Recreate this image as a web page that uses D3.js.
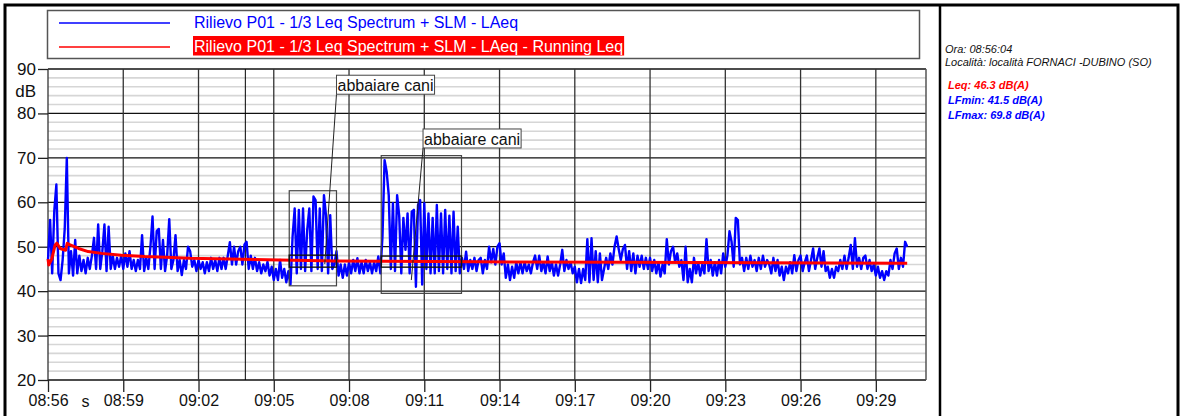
<!DOCTYPE html>
<html>
<head>
<meta charset="utf-8">
<script src="https://cdn.jsdelivr.net/npm/d3@7"></script>
<style>
  body { margin: 0; background: #fff; }
  svg { display: block; font-family: "Liberation Sans", Arial, sans-serif; }
</style>
</head>
<body>
<svg id="chart" width="1183" height="416"></svg>
<script>
// measurement window
const startTime = "08:56:04";
const endTime = "09:31:04";
const stepSec = 5;

// LAeq, one value every 5 s (one row = one minute)
const laeq = [
  47, 56, 44, 58, 64, 44, 42.5, 47, 54, 70, 44, 49,
  43.5, 51.5, 44, 48, 44.5, 47, 44, 47.5, 45, 48, 52, 45,
  55, 45, 49, 55, 44.5, 54.5, 45, 48, 45, 47.5, 45.5, 48,
  45, 48.5, 45.5, 49, 45, 47, 44.5, 47, 45, 52.6, 44.5, 47.5,
  45, 50, 56.8, 45, 53.5, 54, 45, 51.5, 44.5, 48, 56.2, 45,
  47, 52.6, 44.5, 47, 43.6, 47, 45, 50, 49, 45.5, 47, 44.5,
  47, 45, 46.5, 44, 46.5, 44.5, 47.5, 45, 47, 44.5, 47.5, 45,
  47.5, 45, 48, 51, 46, 50, 46, 49, 50, 46, 50.5, 51.1,
  45, 48, 45, 47.5, 44.5, 46.5, 44, 46, 44.5, 46.6, 43.5, 45.5,
  42.5, 45, 42.5, 47, 43, 45, 42, 44.5, 41.5, 52.3, 58.6, 44,
  58.3, 45, 58.6, 44.5, 53.8, 58.6, 44.5, 61.3, 60.5, 45, 58.6, 44.5,
  61.6, 57, 44, 57.1, 45, 46, 49, 43.5, 46, 43, 46, 43.5,
  46.5, 44, 47, 44.5, 47.4, 44, 46.5, 44, 47, 44.5, 46.5, 44,
  46.5, 44.5, 47.8, 44, 52.3, 69.5, 66.9, 61.6, 45, 59.8, 44.5, 61.6,
  57, 44, 56.5, 49.3, 57.5, 44, 57.9, 58.3, 41, 59.4, 60.5, 41.5,
  59.8, 45, 57.5, 44, 56.5, 44, 59.4, 44.5, 57.5, 44, 58.3, 45,
  57, 44, 57.9, 44.5, 54.5, 44, 47.5, 45, 48.9, 44.5, 47, 45,
  47.5, 44.5, 47, 47.5, 44, 47, 45, 50, 46.5, 49.5, 46, 50,
  50.8, 46, 48.5, 43, 46, 42.5, 45.5, 43, 46.5, 44, 46.5, 44,
  46.5, 44.5, 46, 44, 46.5, 48, 45, 48, 44.5, 46.5, 44, 47.8,
  44.5, 46.5, 43.5, 46, 43.5, 46, 49.3, 44.5, 47, 45, 46.5, 44,
  45.5, 42, 45, 41.8, 45, 42.5, 51.7, 42, 51.9, 42.5, 49, 42,
  48.5, 42.5, 45, 47.5, 45, 48.5, 46, 50, 52.3, 49.5, 47, 49.5,
  50.4, 45, 49, 44.5, 48.5, 44, 48, 45.5, 48, 45, 47.5, 45,
  47.5, 44.5, 47, 44, 46.5, 43.3, 46, 44, 51.7, 46, 49, 50,
  46.5, 48.5, 45.5, 47, 42.5, 50, 42, 45, 42, 47.5, 44, 46.5,
  43.5, 46, 44, 51.7, 44.5, 47, 43.5, 46.5, 43.5, 47, 44, 48.5,
  45.5, 48, 53.5, 51.1, 45.5, 56.5, 56, 46, 47.5, 44.5, 47.5, 45,
  48, 45.5, 47, 44.5, 47.5, 45, 48, 45.5, 47, 46, 44, 47.5,
  44.5, 47, 43.5, 45.5, 42.5, 45.5, 44, 46.5, 44, 48.1, 44.5, 47,
  48, 44.5, 46.5, 48, 44.5, 47, 49.6, 45, 47.5, 49.6, 45.5, 49,
  44.5, 45.5, 43, 45, 43, 45.5, 44.5, 47, 45, 48, 45, 47.5,
  50.4, 45, 51.9, 45.5, 47.5, 45, 47.5, 48, 45, 47, 44.5, 46,
  43.5, 45.5, 43, 44.5, 42.5, 44.5, 43.5, 47, 45, 48.5, 49.6, 45,
  47.5, 45.5, 51.1, 50
];

// running Leq, read at seconds from start
const runSec = [0, 2, 9, 17, 21, 29, 42, 46, 53, 73, 96, 128, 176, 232, 296, 340, 555, 686, 1030, 1380, 2055];
const runLeq = [47.2, 45.9, 47.2, 50.4, 50.8, 49.6, 49.2, 50.8, 50.4, 49.6, 48.9, 48.5, 48.1, 47.8, 47.6, 47.4, 47.0, 46.8, 46.6, 46.5, 46.3];

const yTicks = [20, 30, 40, 50, 60, 70, 80, 90];
const markerTime = "09:03:56";

const dogEvents = [
  {label: "abbaiare cani", from: "09:05:41", to: "09:07:34", top: 62.6, bottom: 41.2, leqTop: 48.1, leqBottom: 45.4,
   labelAt: "09:07:34", labelDb: 88.6, pointAt: "09:07:06", pointDb: 46.1},
  {label: "abbaiare cani", from: "09:09:21", to: "09:12:33", top: 70.5, bottom: 39.5, leqTop: 47.9, leqBottom: 45.4,
   labelAt: "09:11:01", labelDb: 76.5, pointAt: "09:10:33", pointDb: 42.5}
];

const legendLabels = ["Rilievo P01 - 1/3 Leq Spectrum + SLM - LAeq", "Rilievo P01 - 1/3 Leq Spectrum + SLM - LAeq - Running Leq"];
const infoLines = ["Ora: 08:56:04", "Località: località FORNACI -DUBINO (SO)"];
const statNames = ["Leq", "LFmin", "LFmax"];
const statValues = [46.3, 41.5, 69.8];

const parse = d3.timeParse("%H:%M:%S");
const t0 = parse(startTime);
const plot = {left: 48, right: 926, top: 69, bottom: 380};

const x = d3.scaleTime([t0, parse(endTime)], [plot.left, plot.right]);
const y = d3.scaleLinear([20, 90], [plot.bottom, plot.top]);
const xTicks = d3.range(0, 12).map(k => d3.timeMinute.offset(t0, 3 * k));

const svg = d3.select("#chart");

// outer frame
svg.append("path")
    .attr("d", "M5,416V5H1178V416")
    .attr("fill", "none").attr("stroke", "#000").attr("stroke-width", 3);
svg.append("line")
    .attr("x1", 940).attr("x2", 940).attr("y1", 5).attr("y2", 416)
    .attr("stroke", "#000").attr("stroke-width", 2.5);

// legend
const legend = svg.append("g");
legend.append("rect")
    .attr("x", 47.5).attr("y", 10.5).attr("width", 872).attr("height", 48)
    .attr("fill", "none").attr("stroke", "#555").attr("stroke-width", 1.5);
legend.selectAll("line")
  .data(legendLabels)
  .join("line")
    .attr("x1", 59).attr("x2", 170)
    .attr("y1", (d, i) => 23 + i * 24).attr("y2", (d, i) => 23 + i * 24)
    .attr("stroke", (d, i) => i ? "#ff0000" : "#0000ff")
    .attr("stroke-width", 1.5);
const redText = legend.append("text")
    .attr("x", 194).attr("y", 51.5)
    .attr("font-size", 16).attr("fill", "#fff")
    .text(legendLabels[1]);
const rb = redText.node().getBBox();
legend.insert("rect", "text")
    .attr("x", 193).attr("y", 36).attr("width", rb.width + 2).attr("height", 19.5)
    .attr("fill", "#ff0000");
legend.append("text")
    .attr("x", 194).attr("y", 27.5)
    .attr("font-size", 16).attr("fill", "#0000ff")
    .text(legendLabels[0]);

// minor grid
svg.append("g")
  .selectAll("line")
  .data(d3.range(22, 90, 2).filter(v => v % 10 !== 0))
  .join("line")
    .attr("x1", plot.left).attr("x2", plot.right)
    .attr("y1", d => y(d)).attr("y2", d => y(d))
    .attr("stroke", "#d6d6d6").attr("stroke-width", 1.6);

// major horizontal grid
svg.append("g")
  .selectAll("line")
  .data(yTicks)
  .join("line")
    .attr("x1", plot.left).attr("x2", plot.right)
    .attr("y1", d => y(d)).attr("y2", d => y(d))
    .attr("stroke", "#111").attr("stroke-width", 1.3);

// vertical grid
svg.append("g")
  .selectAll("line")
  .data(xTicks)
  .join("line")
    .attr("x1", d => x(d)).attr("x2", d => x(d))
    .attr("y1", plot.top).attr("y2", plot.bottom)
    .attr("stroke", "#333").attr("stroke-width", 1.3);
svg.append("line")
    .attr("x1", plot.right).attr("x2", plot.right)
    .attr("y1", plot.top).attr("y2", plot.bottom)
    .attr("stroke", "#555").attr("stroke-width", 1.5);
svg.append("line")
    .attr("x1", x(parse(markerTime))).attr("x2", x(parse(markerTime)))
    .attr("y1", plot.top).attr("y2", plot.bottom)
    .attr("stroke", "#000").attr("stroke-width", 1);

// axes
const yAxis = svg.append("g")
    .attr("transform", `translate(${plot.left},0)`)
    .call(d3.axisLeft(y).tickValues(yTicks).tickSize(10).tickPadding(2))
    .call(g => g.select(".domain").remove());
yAxis.selectAll(".tick line").attr("stroke", "#222").attr("stroke-width", 1.3);
yAxis.selectAll(".tick text").attr("font-size", 17).attr("fill", "#111")
    .attr("font-family", "Liberation Sans, Arial, sans-serif");
yAxis.append("text")
    .attr("x", -12).attr("y", y(85)).attr("dy", "0.32em")
    .attr("text-anchor", "end").attr("font-size", 17).attr("fill", "#111")
    .text("dB");

const xAxis = svg.append("g")
    .attr("transform", `translate(0,${plot.bottom})`)
    .call(d3.axisBottom(x).tickValues(xTicks).tickSize(12).tickPadding(3).tickFormat(d3.timeFormat("%H:%M")))
    .call(g => g.select(".domain").remove());
xAxis.selectAll(".tick line").attr("stroke", "#222").attr("stroke-width", 1.3);
xAxis.selectAll(".tick text").attr("font-size", 16).attr("fill", "#111")
    .attr("font-family", "Liberation Sans, Arial, sans-serif");
xAxis.append("text")
    .attr("x", 85.5).attr("y", 27).attr("text-anchor", "middle")
    .attr("font-size", 16).attr("fill", "#111")
    .text("s");

// series
const laeqLine = d3.line()
    .x((d, i) => x(d3.timeSecond.offset(t0, i * stepSec)))
    .y(d => y(d));
svg.append("path")
    .datum(laeq)
    .attr("fill", "none").attr("stroke", "#0000ff")
    .attr("stroke-width", 2.4).attr("stroke-linejoin", "round")
    .attr("d", laeqLine);

const runLine = d3.line()
    .x((d, i) => x(d3.timeSecond.offset(t0, runSec[i])))
    .y(d => y(d));
svg.append("path")
    .datum(runLeq)
    .attr("fill", "none").attr("stroke", "#ff0000")
    .attr("stroke-width", 3).attr("stroke-linejoin", "round")
    .attr("d", runLine);

// annotations
const notes = svg.append("g");
dogEvents.forEach(ev => {
  const x0 = x(parse(ev.from)), x1 = x(parse(ev.to));
  notes.append("rect")
      .attr("x", x0).attr("y", y(ev.top))
      .attr("width", x1 - x0).attr("height", y(ev.bottom) - y(ev.top))
      .attr("fill", "none").attr("stroke", "#444").attr("stroke-width", 1.2);
  notes.append("rect")
      .attr("x", x0).attr("y", y(ev.leqTop))
      .attr("width", x1 - x0).attr("height", y(ev.leqBottom) - y(ev.leqTop))
      .attr("fill", "none").attr("stroke", "#111").attr("stroke-width", 1.4);

  const lx = x(parse(ev.labelAt)), ly = y(ev.labelDb);
  notes.append("line")
      .attr("x1", lx).attr("y1", ly + 19)
      .attr("x2", x(parse(ev.pointAt))).attr("y2", y(ev.pointDb))
      .attr("stroke", "#222").attr("stroke-width", 1);
  const box = notes.append("rect")
      .attr("x", lx).attr("y", ly).attr("height", 19)
      .attr("fill", "#fff").attr("stroke", "#444").attr("stroke-width", 1);
  const t = notes.append("text")
      .attr("x", lx + 1).attr("y", ly + 16)
      .attr("font-size", 16).attr("fill", "#111")
      .text(ev.label);
  box.attr("width", t.node().getComputedTextLength() + 2);
});

// info panel
const info = svg.append("g").attr("font-style", "italic").attr("font-size", 11);
info.selectAll("text.info")
  .data(infoLines)
  .join("text")
    .attr("class", "info")
    .attr("x", 945).attr("y", (d, i) => 53 + i * 13)
    .attr("fill", "#111")
    .text(d => d);
info.selectAll("text.stat")
  .data(statNames)
  .join("text")
    .attr("class", "stat")
    .attr("x", 948).attr("y", (d, i) => 89 + i * 15)
    .attr("font-weight", "bold")
    .attr("fill", (d, i) => i ? "#0000ff" : "#ff0000")
    .text((d, i) => `${d}: ${statValues[i].toFixed(1)} dB(A)`);
</script>
</body>
</html>
